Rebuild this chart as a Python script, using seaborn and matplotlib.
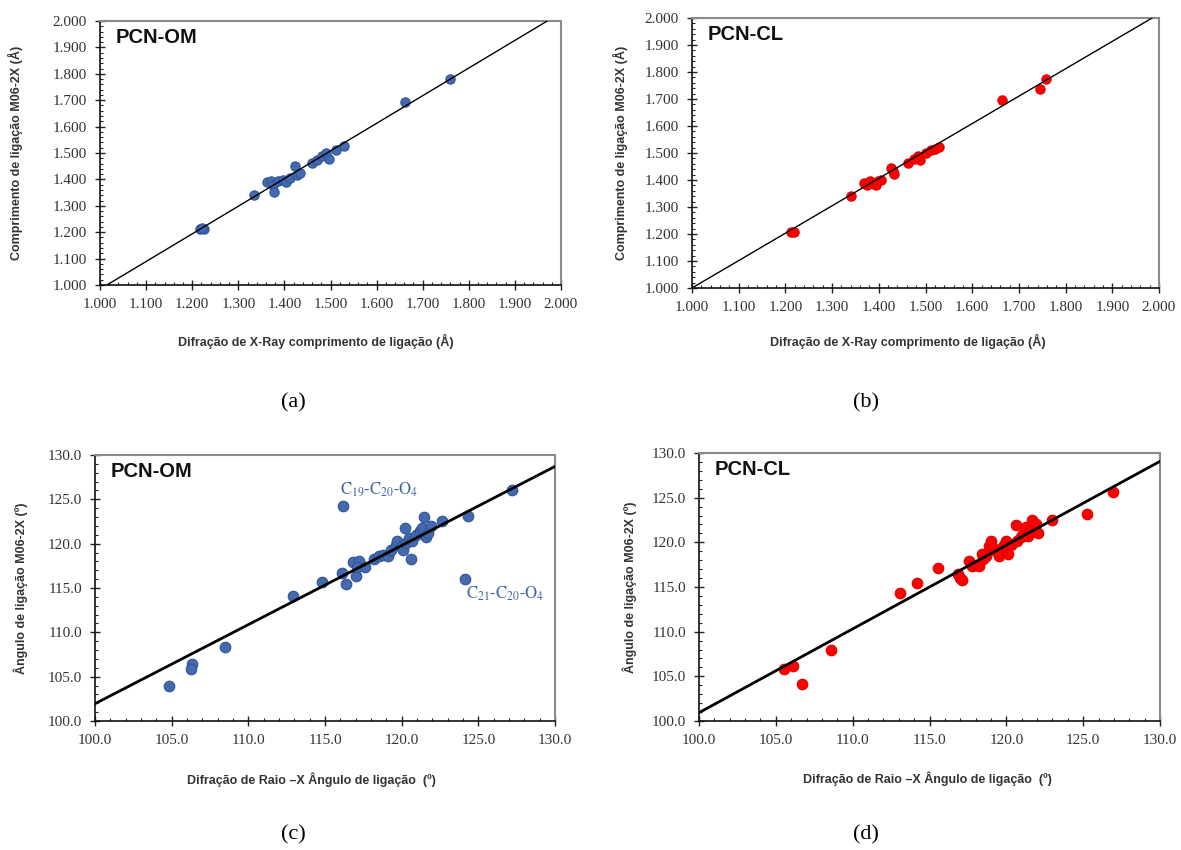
import numpy as np
import pandas as pd
import seaborn as sns
import matplotlib
matplotlib.use("Agg")
import matplotlib.pyplot as plt
from matplotlib.ticker import MultipleLocator, FormatStrFormatter

# ---- bond lengths (Å): X-ray vs M06-2X ----
om_len_xray = [1.217, 1.226, 1.222, 1.334, 1.362, 1.372, 1.376, 1.377, 1.387, 1.398,
               1.403, 1.412, 1.423, 1.427, 1.434, 1.459, 1.470, 1.481, 1.490, 1.497,
               1.513, 1.530, 1.662, 1.759]
om_len_calc = [1.212, 1.212, 1.215, 1.340, 1.392, 1.393, 1.380, 1.353, 1.393, 1.399,
               1.389, 1.405, 1.449, 1.418, 1.424, 1.464, 1.474, 1.487, 1.500, 1.479,
               1.513, 1.526, 1.693, 1.780]

cl_len_xray = [1.211, 1.218, 1.340, 1.369, 1.375, 1.381, 1.389, 1.398, 1.404, 1.393,
               1.426, 1.430, 1.433, 1.463, 1.475, 1.488, 1.484, 1.502, 1.512, 1.520,
               1.529, 1.664, 1.746, 1.758]
cl_len_calc = [1.207, 1.207, 1.340, 1.389, 1.383, 1.395, 1.385, 1.395, 1.401, 1.383,
               1.444, 1.432, 1.422, 1.463, 1.478, 1.473, 1.488, 1.500, 1.510, 1.516,
               1.522, 1.695, 1.737, 1.775]

# ---- bond angles (°): X-ray vs M06-2X ----
om_ang_xray = [104.8, 106.3, 106.25, 108.5, 112.9, 114.8, 116.1, 116.2, 116.4, 117.0,
               116.8, 117.2, 117.1, 117.6, 118.2, 118.5, 118.8, 119.1, 119.3, 119.6,
               119.7, 120.0, 120.1, 120.2, 120.3, 120.45, 120.6, 120.7, 120.95, 121.2,
               121.3, 121.45, 121.6, 121.7, 121.9, 122.6, 124.1, 124.3, 127.2]
om_ang_calc = [103.9, 106.4, 105.9, 108.4, 114.1, 115.7, 116.7, 124.3, 115.5, 116.3,
               117.9, 118.0, 117.4, 117.4, 118.3, 118.6, 118.75, 118.6, 119.3, 119.8,
               120.25, 119.7, 119.3, 121.75, 120.1, 120.6, 118.3, 120.25, 121.0, 121.4,
               121.75, 123.0, 120.8, 121.2, 122.0, 122.6, 116.0, 123.1, 126.1]

cl_ang_xray = [105.5, 106.1, 106.7, 108.6, 113.1, 114.2, 115.55, 116.85, 117.0, 117.1,
               117.6, 117.75, 118.0, 118.25, 118.4, 118.5, 118.7, 118.86, 118.98, 119.1,
               119.3, 119.5, 119.7, 119.85, 119.96, 120.1, 120.3, 120.6, 120.7, 120.95,
               121.1, 121.3, 121.4, 121.55, 121.7, 121.9, 122.05, 122.97, 125.28, 126.94]
cl_ang_calc = [105.8, 106.15, 104.1, 107.9, 114.3, 115.5, 117.1, 116.4, 116.0, 115.8,
               117.9, 117.3, 117.5, 117.3, 118.7, 118.1, 118.45, 119.55, 120.1, 119.4,
               119.0, 118.5, 119.4, 119.75, 120.1, 118.75, 119.75, 121.9, 120.1, 120.55,
               120.9, 121.7, 120.7, 121.25, 122.55, 122.05, 121.05, 122.55, 123.2, 125.64]

# linear trend lines: (x0, y0, slope)
trend_om_len = (1.015, 1.0, 1.047)
trend_cl_len = (1.000, 1.0, 1.015)
trend_om_ang = (100.0, 101.95, 0.892)
trend_cl_ang = (100.0, 100.93, 0.938)

panel_names = ["PCN-OM", "PCN-CL", "PCN-OM", "PCN-CL"]
panel_tags = ["(a)", "(b)", "(c)", "(d)"]
len_xlabel = "Difração de X-Ray comprimento de ligação (Å)"
len_ylabel = "Comprimento de ligação M06-2X (Å)"
ang_xlabel = "Difração de Raio –X Ângulo de ligação  (º)"
ang_ylabel = "Ângulo de ligação M06-2X (º)"

BLUE = "#4469AE"
BLUE_EDGE = "#2F5597"
RED = "#FF0000"
RED_EDGE = "#E00000"

sns.set_theme(style="white")
plt.rcParams["font.family"] = ["Liberation Sans", "DejaVu Sans"]
plt.rcParams["mathtext.fontset"] = "stix"

fig = plt.figure(figsize=(11.81, 8.5), dpi=100)
W, H = 1181, 850


def px_axes(x0, y0, x1, y1):
    return fig.add_axes([x0 / W, 1 - y1 / H, (x1 - x0) / W, (y1 - y0) / H])


ax_a = px_axes(100, 21, 561, 285)
ax_b = px_axes(692, 18, 1159, 288)
ax_c = px_axes(95, 455, 555, 721)
ax_d = px_axes(699, 453, 1160, 721)


def style_axes(ax, lim, major, minor, fmt):
    ax.set_xlim(*lim)
    ax.set_ylim(*lim)
    for axis in (ax.xaxis, ax.yaxis):
        axis.set_major_locator(MultipleLocator(major))
        axis.set_minor_locator(MultipleLocator(minor))
        axis.set_major_formatter(FormatStrFormatter(fmt))
    ax.tick_params(which="major", direction="inout", length=7, width=1.0,
                   color="#222222", labelsize=11, labelcolor="#333333", pad=6,
                   bottom=True, left=True)
    ax.tick_params(which="minor", direction="in", length=2.5, width=0.8,
                   color="#222222", bottom=True, left=True)
    for lab in ax.get_xticklabels() + ax.get_yticklabels():
        lab.set_family(["Liberation Serif", "DejaVu Serif"])
    for side in ("left", "bottom"):
        ax.spines[side].set_color("#111111")
        ax.spines[side].set_linewidth(1.2)
    for side in ("top", "right"):
        ax.spines[side].set_color("#8a8a8a")
        ax.spines[side].set_linewidth(1.5)
    ax.grid(False)


def draw_panel(ax, xs, ys, trend, color, edge, size, lw, lim, major, minor, fmt,
               name, xlabel, ylabel, xlab_pos, ylab_x):
    x0, y0, slope = trend
    ax.axline((x0, y0), slope=slope, color="black", linewidth=lw, zorder=3)
    df = pd.DataFrame({"x": xs, "y": ys})
    sns.scatterplot(data=df, x="x", y="y", ax=ax, color=color, edgecolor=edge,
                    linewidth=0.8, s=size, zorder=2, legend=False)
    style_axes(ax, lim, major, minor, fmt)
    ax.set_xlabel(xlabel, fontsize=9, fontweight="bold", color="#333333")
    ax.set_ylabel(ylabel, fontsize=9, fontweight="bold", color="#333333")
    ax.xaxis.set_label_coords(xlab_pos[0], xlab_pos[1])
    ax.yaxis.set_label_coords(ylab_x, 0.5)
    ax.text(0.033, 0.975, name, transform=ax.transAxes, fontsize=14.5,
            fontweight="bold", color="#111111", ha="left", va="top")


draw_panel(ax_a, om_len_xray, om_len_calc, trend_om_len, BLUE, BLUE_EDGE, 45, 1.0,
           (1.0, 2.0), 0.1, 0.02, "%.3f", panel_names[0], len_xlabel, len_ylabel,
           (0.469, -0.186), -0.167)
draw_panel(ax_b, cl_len_xray, cl_len_calc, trend_cl_len, RED, RED_EDGE, 45, 1.0,
           (1.0, 2.0), 0.1, 0.02, "%.3f", panel_names[1], len_xlabel, len_ylabel,
           (0.4625, -0.170), -0.137)
draw_panel(ax_c, om_ang_xray, om_ang_calc, trend_om_ang, BLUE, BLUE_EDGE, 58, 2.0,
           (100.0, 130.0), 5.0, 1.0, "%.1f", panel_names[2], ang_xlabel, ang_ylabel,
           (0.470, -0.192), -0.146)
draw_panel(ax_d, cl_ang_xray, cl_ang_calc, trend_cl_ang, RED, RED_EDGE, 58, 2.0,
           (100.0, 130.0), 5.0, 1.0, "%.1f", panel_names[3], ang_xlabel, ang_ylabel,
           (0.495, -0.190), -0.134)

# outlier annotations in the PCN-OM angle panel
ax_c.text(116.0, 126.05, r"C$_{19}$-C$_{20}$-O$_{4}$", color="#3F62A6", fontsize=12,
          family=["STIXGeneral", "Liberation Serif"], ha="left", va="center")
ax_c.text(124.2, 114.3, r"C$_{21}$-C$_{20}$-O$_{4}$", color="#3F62A6", fontsize=12,
          family=["STIXGeneral", "Liberation Serif"], ha="left", va="center")

# panel tags
for tag, (px, py) in zip(panel_tags, [(293, 403), (866, 403), (293, 835), (866, 835)]):
    fig.text(px / W, 1 - py / H, tag, fontsize=16, ha="center", va="center",
             family=["Liberation Serif", "DejaVu Serif"], color="black")

fig.savefig("out.png", dpi=100, facecolor="white")
